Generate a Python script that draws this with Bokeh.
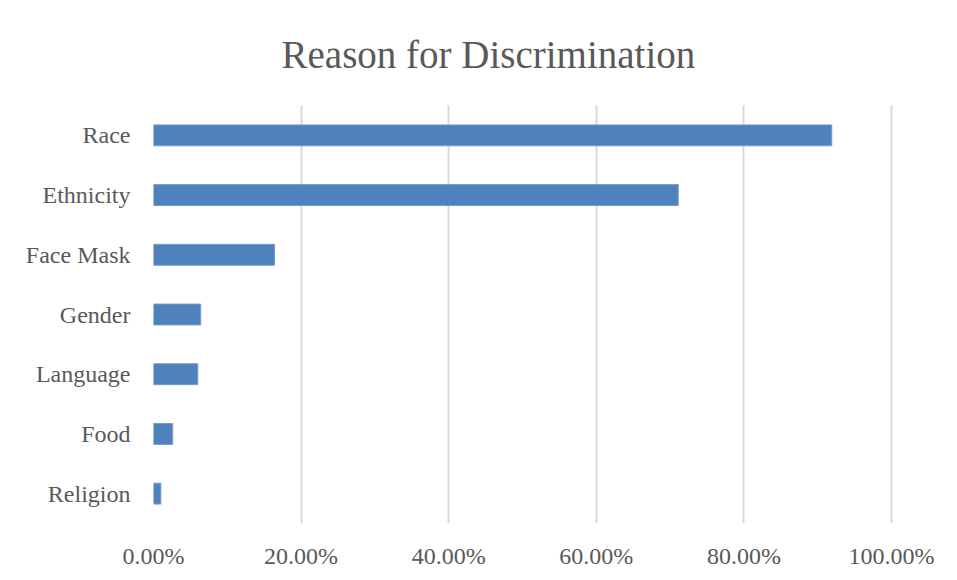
from bokeh.plotting import figure
from bokeh.models import ColumnDataSource, NumeralTickFormatter, FixedTicker, Range1d, Title
from bokeh.embed import file_html
from bokeh.resources import INLINE

categories = ["Race", "Ethnicity", "Face Mask", "Gender", "Language", "Food", "Religion"]
values = [0.919, 0.711, 0.164, 0.064, 0.060, 0.026, 0.010]
tick_values = [0.0, 0.2, 0.4, 0.6, 0.8, 1.0]
title_text = "Reason for Discrimination"

FONT = "Liberation Serif"
GREY = "#595959"

src = ColumnDataSource(dict(cat=categories, val=values))

p = figure(
    width=949, height=578,
    y_range=list(reversed(categories)),
    x_range=Range1d(0, 1.004),
    output_backend="svg", toolbar_location=None,
    min_border_left=153, min_border_right=55, min_border_top=105, min_border_bottom=55,
)
p.hbar(y="cat", right="val", left=0, height=0.35, source=src,
       fill_color="#4F81BD", line_color="#739ccd", line_width=1)

p.title = Title(text=title_text, align="left",
                text_font=FONT, text_font_size="39px", text_color=GREY,
                text_font_style="normal", standoff=60, offset=128)

p.outline_line_color = None
p.xgrid.grid_line_color = "#d9d9d9"
p.xgrid.grid_line_width = 2
p.ygrid.grid_line_color = None

p.xaxis.ticker = FixedTicker(ticks=tick_values)
p.xaxis.formatter = NumeralTickFormatter(format="0.00%")
for ax in (p.xaxis, p.yaxis):
    ax.axis_line_color = None
    ax.major_tick_line_color = None
    ax.minor_tick_line_color = None
    ax.major_label_text_font = FONT
    ax.major_label_text_font_size = "24px"
    ax.major_label_text_color = GREY
p.xaxis.major_label_standoff = 13
p.yaxis.major_label_standoff = 17

open("out.html", "w").write(file_html(p, INLINE))
